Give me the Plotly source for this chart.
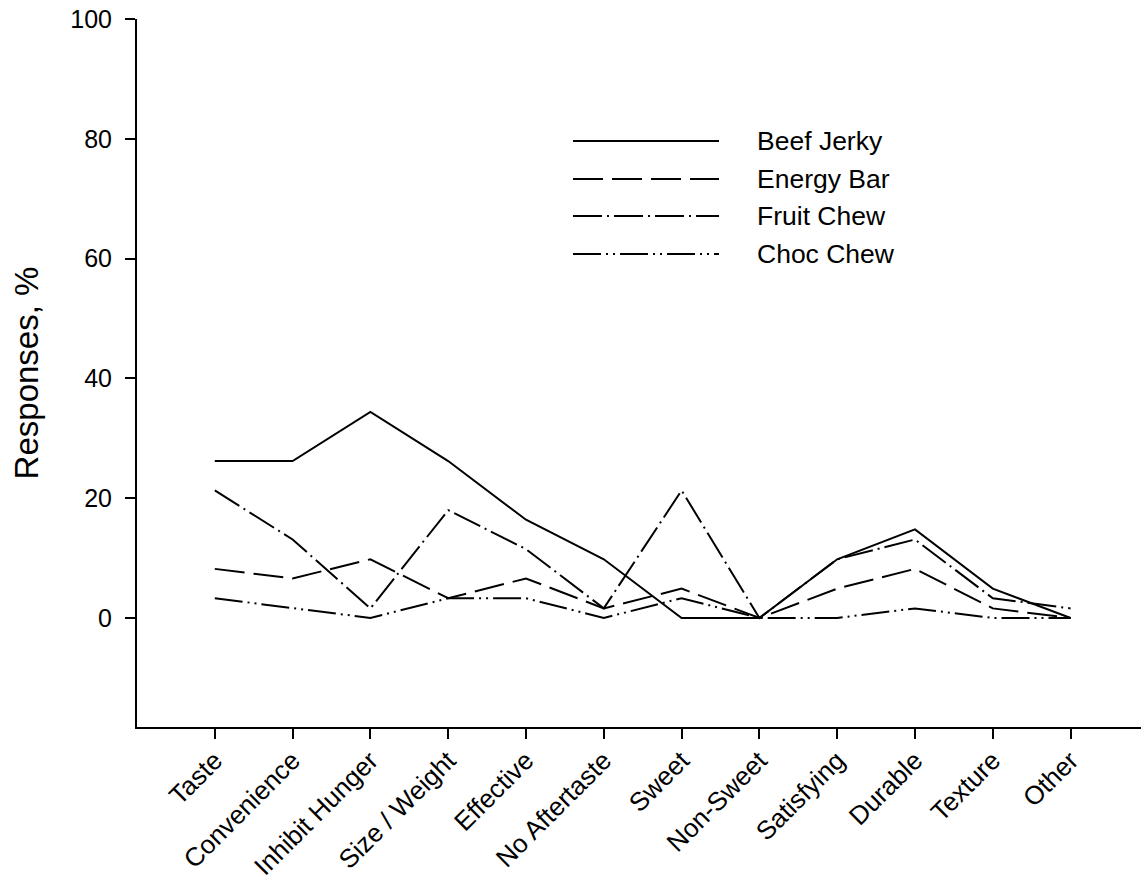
import plotly.graph_objects as go

# Reasons for product preference, percent of responses
categories = ["Taste", "Convenience", "Inhibit Hunger", "Size / Weight", "Effective",
              "No Aftertaste", "Sweet", "Non-Sweet", "Satisfying", "Durable",
              "Texture", "Other"]
beef_jerky = [26.2, 26.2, 34.4, 26.2, 16.4, 9.8, 0.0, 0.0, 9.8, 14.8, 4.9, 0.0]
energy_bar = [8.2, 6.6, 9.8, 3.3, 6.6, 1.6, 4.9, 0.0, 4.9, 8.2, 1.6, 0.0]
fruit_chew = [21.3, 13.1, 1.6, 18.0, 11.5, 1.6, 21.3, 0.0, 9.8, 13.1, 3.3, 1.6]
choc_chew = [3.3, 1.6, 0.0, 3.3, 3.3, 0.0, 3.3, 0.0, 0.0, 1.6, 0.0, 0.0]

series_names = ["Beef Jerky", "Energy Bar", "Fruit Chew", "Choc Chew"]
series_values = [beef_jerky, energy_bar, fruit_chew, choc_chew]
dashes = ["solid", "30px,9px", "29px,5px,2px,5px", "28px,5px,2px,5px,2px,5px"]

FONT = "Liberation Sans, Arial, sans-serif"

fig = go.Figure()
for name, vals, dash in zip(series_names, series_values, dashes):
    fig.add_trace(go.Scatter(
        x=categories, y=vals, mode="lines", name=name,
        line=dict(color="black", width=2, dash=dash),
        showlegend=False,
    ))

# Hand-built legend with long line samples
plot_l, plot_r, plot_t, plot_b = 137, 1141, 19, 727
pw, ph = plot_r - plot_l, plot_b - plot_t
rows_px = [141, 179, 216, 254]
for name, dash, ypx in zip(series_names, dashes, rows_px):
    yp = (plot_b - ypx) / ph
    fig.add_shape(type="line", xref="paper", yref="paper",
                  x0=(573 - plot_l) / pw, x1=(719 - plot_l) / pw, y0=yp, y1=yp,
                  line=dict(color="black", width=2, dash=dash))
    fig.add_annotation(xref="paper", yref="paper", x=(755 - plot_l) / pw, y=yp,
                       text=name, showarrow=False, xanchor="left", yanchor="middle",
                       font=dict(family=FONT, size=26.5, color="black"))

fig.update_layout(
    width=1141, height=884,
    margin=dict(l=plot_l, r=1141 - plot_r, t=plot_t, b=884 - plot_b),
    paper_bgcolor="white", plot_bgcolor="white",
    font=dict(family=FONT, color="black"),
    xaxis=dict(
        type="category", range=[-1, 11.905],
        showline=True, linecolor="black", linewidth=2,
        ticks="outside", ticklen=10, tickwidth=2, tickcolor="black",
        tickangle=-45, ticklabelstandoff=-4,
        tickfont=dict(family=FONT, size=26, color="black"),
        showgrid=False, zeroline=False,
    ),
    yaxis=dict(
        range=[-18.2, 100],
        tickvals=[0, 20, 40, 60, 80, 100],
        showline=True, linecolor="black", linewidth=2,
        ticks="outside", ticklen=10, tickwidth=2, tickcolor="black",
        ticklabelstandoff=8,
        tickfont=dict(family=FONT, size=25, color="black"),
        showgrid=False, zeroline=False,
        title=dict(text="Responses, %", font=dict(family=FONT, size=33, color="black"),
                   standoff=22),
    ),
)

fig.write_html("out.html")
